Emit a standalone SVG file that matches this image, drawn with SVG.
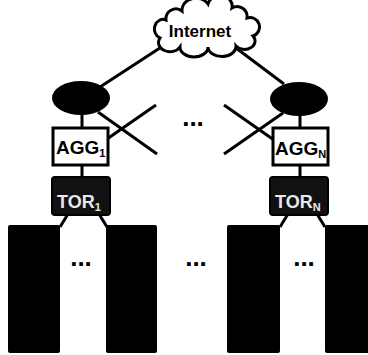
<svg xmlns="http://www.w3.org/2000/svg" width="368" height="355" viewBox="0 0 368 355">
<style>
.ln{stroke:#000;stroke-width:3;fill:none;stroke-linecap:butt}
.sw{fill:#000}
.agg{fill:#fff;stroke:#000;stroke-width:3}
.tor{fill:#111;stroke:#000;stroke-width:2}
.rack{fill:#000}
.t{font-family:"Liberation Sans",Arial,sans-serif;font-weight:bold;fill:#000}
.tw{font-family:"Liberation Sans",Arial,sans-serif;font-weight:bold;fill:#e8e8e8}
.dots{font-family:"Liberation Sans",Arial,sans-serif;font-weight:bold;font-size:26px;fill:#000}
</style>
<rect width="368" height="355" fill="#fff"/>
<g id="connectors">
<line class="ln" x1="166" y1="44" x2="100" y2="87"/>
<line class="ln" x1="236" y1="48" x2="284" y2="84"/>
<line class="ln" x1="98" y1="112" x2="157" y2="154"/>
<line class="ln" x1="156" y1="105" x2="107" y2="139"/>
<line class="ln" x1="224" y1="105" x2="274" y2="140"/>
<line class="ln" x1="224" y1="154" x2="283" y2="113"/>
<line class="ln" x1="82" y1="114" x2="82" y2="128"/>
<line class="ln" x1="300" y1="115" x2="300" y2="128"/>
<line class="ln" x1="82" y1="165" x2="82" y2="177"/>
<line class="ln" x1="300" y1="165" x2="300" y2="177"/>
<line class="ln" x1="68" y1="214" x2="60" y2="227"/>
<line class="ln" x1="99" y1="214" x2="107" y2="227"/>
<line class="ln" x1="288" y1="214" x2="280" y2="227"/>
<line class="ln" x1="317" y1="214" x2="325" y2="227"/>
</g>
<g id="internet">
<path d="M160,38 A8,9 0 0 1 166,20 A10,10 0 0 1 182,11 A14,12 0 0 1 208,4 A12,10 0 0 1 232,8 A10,10 0 0 1 247,18 A9,9 0 0 1 253,36 A10,8 0 0 1 236,46 A14,10 0 0 1 208,47 A14,10 0 0 1 180,47 A10,8 0 0 1 160,38 Z" fill="#fff" stroke="#000" stroke-width="3"/>
<text class="t" x="200" y="37" font-size="17" text-anchor="middle">Internet</text>
</g>
<g id="switch1"><ellipse class="sw" cx="81" cy="98" rx="29" ry="17"/></g>
<g id="switchN"><ellipse class="sw" cx="299" cy="99" rx="29" ry="17"/></g>
<g id="agg1">
<rect class="agg" x="53" y="128" width="55" height="37"/>
<text class="t" x="56" y="154" font-size="19">AGG<tspan font-size="11" dy="3">1</tspan></text>
</g>
<g id="aggN">
<rect class="agg" x="273" y="128" width="55" height="37"/>
<text class="t" x="275" y="155" font-size="19">AGG<tspan font-size="11" dy="3">N</tspan></text>
</g>
<g id="tor1">
<rect class="tor" x="52" y="177" width="58" height="38" rx="3"/>
<text class="tw" x="57" y="208" font-size="18">TOR<tspan font-size="11" dy="3">1</tspan></text>
</g>
<g id="torN">
<rect class="tor" x="270" y="177" width="58" height="38" rx="3"/>
<text class="tw" x="275" y="208" font-size="18">TOR<tspan font-size="11" dy="3">N</tspan></text>
</g>
<g id="rack1"><rect class="rack" x="8" y="225" width="52" height="128" rx="2"/></g>
<g id="rack2"><rect class="rack" x="106" y="225" width="51" height="128" rx="2"/></g>
<g id="rack3"><rect class="rack" x="227" y="225" width="53" height="128" rx="2"/></g>
<g id="rack4"><rect class="rack" x="325" y="225" width="50" height="128" rx="2"/></g>
<text class="dots" x="193" y="126" text-anchor="middle">...</text>
<text class="dots" x="81" y="266" text-anchor="middle">...</text>
<text class="dots" x="196" y="266" text-anchor="middle">...</text>
<text class="dots" x="304" y="266" text-anchor="middle">...</text>
</svg>
